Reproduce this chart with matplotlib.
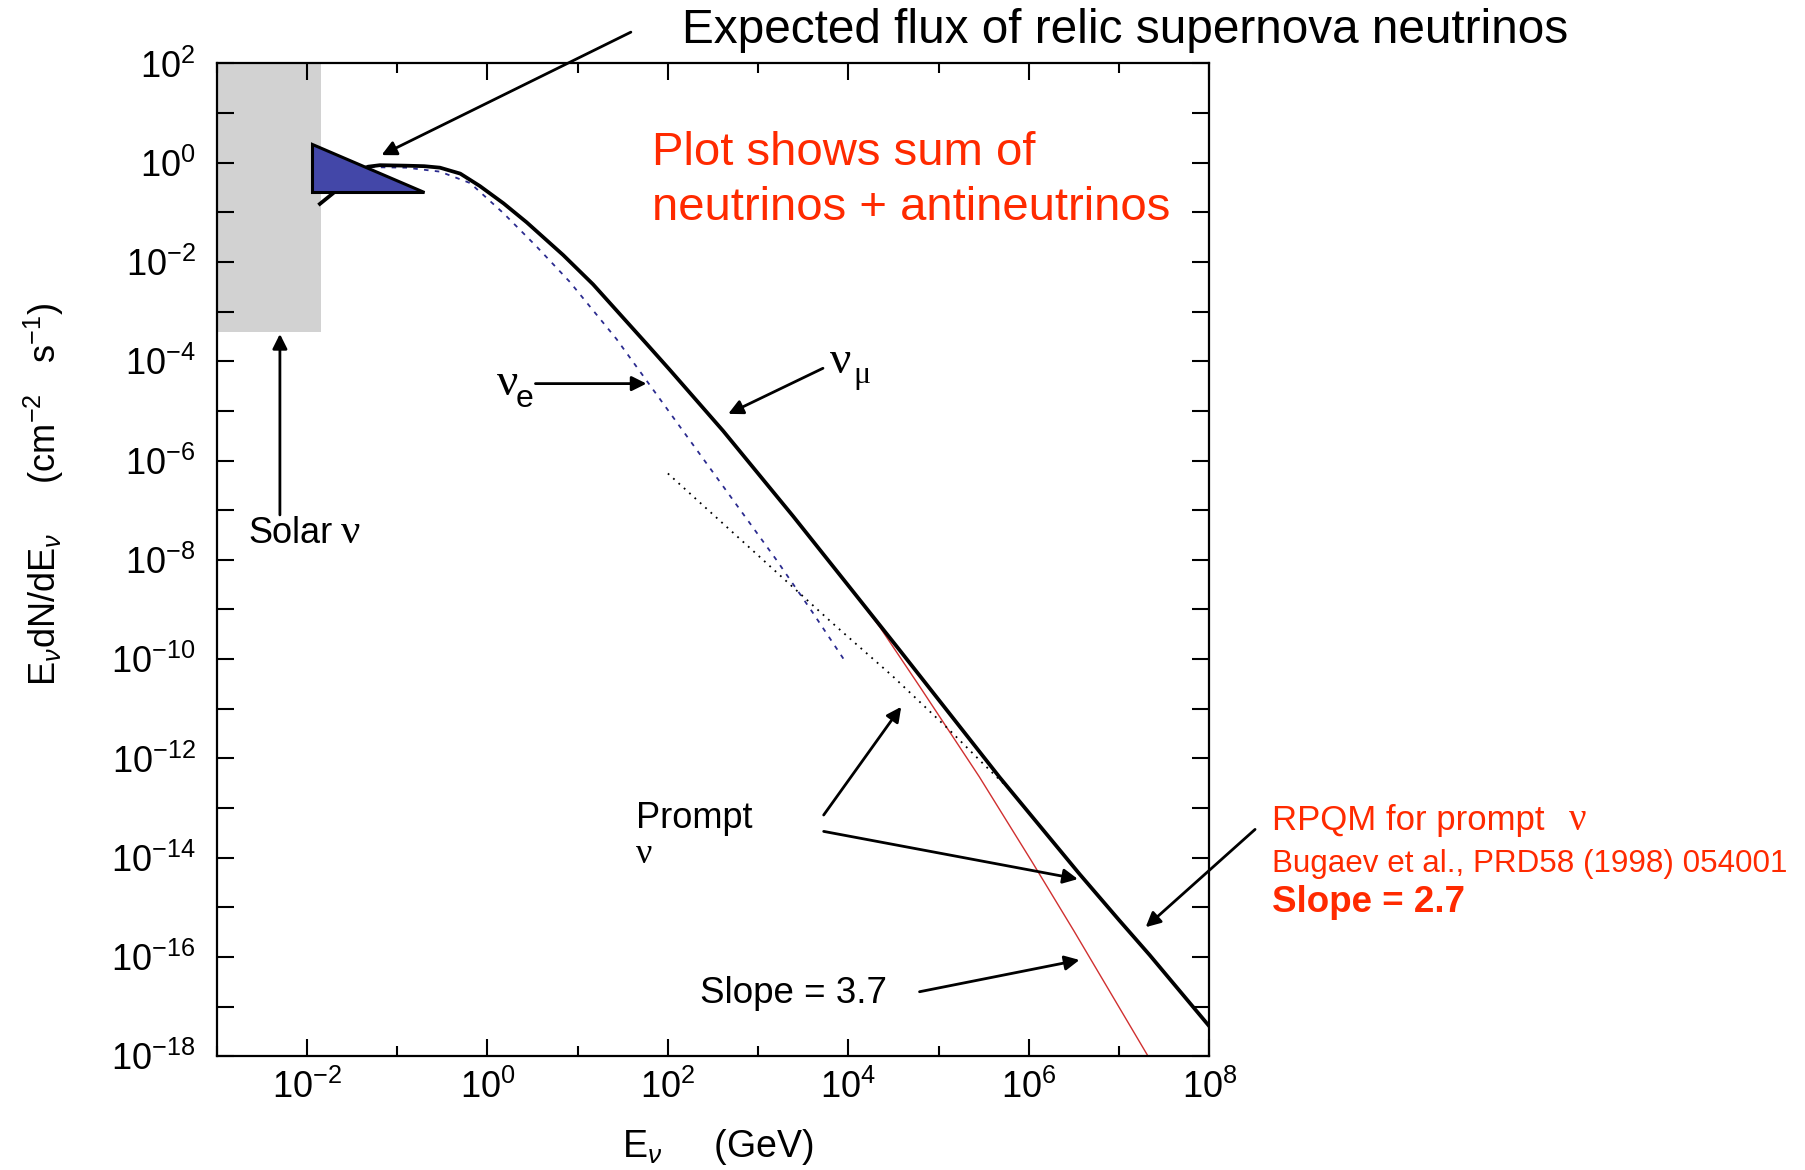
import numpy as np
import matplotlib.pyplot as plt
from matplotlib.ticker import FixedLocator, FuncFormatter, NullLocator

plt.rcParams['font.family'] = ['Liberation Sans', 'DejaVu Sans']
plt.rcParams['mathtext.fontset'] = 'custom'
plt.rcParams['mathtext.rm'] = 'Liberation Sans'
plt.rcParams['mathtext.it'] = 'Liberation Sans:italic'
plt.rcParams['mathtext.bf'] = 'Liberation Sans:bold'

# all spectra as log10(E / GeV) and log10(E dN/dE / cm^-2 s^-1)
numu_logE = [-1.855, -1.71, -1.55, -1.42, -1.32, -1.19, -0.9, -0.7, -0.525, -0.3, -0.083, 0.18,
             0.435, 0.84, 1.171, 1.76, 2.02, 2.611, 3.387, 4.013, 4.568, 5.675, 6.561,
             7.0, 7.337, 8.0]
numu_logF = [-0.83, -0.617, -0.35, -0.15, -0.08, -0.05, -0.06, -0.07, -0.10, -0.22, -0.47, -0.82,
             -1.20, -1.86, -2.45, -3.64, -4.17, -5.40, -7.12, -8.55, -9.82, -12.38, -14.33,
             -15.26, -15.96, -17.40]

nue_logE = [-1.30, -0.9, -0.525, -0.19, 0.18, 0.546, 0.913, 1.43, 1.80, 2.537, 3.202, 3.6, 3.977]
nue_logF = [-0.09, -0.10, -0.18, -0.41, -1.02, -1.69, -2.40, -3.55, -4.48, -6.33, -8.0, -9.05, -10.08]

prompt_logE = [2.0, 3.017, 3.82, 4.494, 5.12, 5.5, 5.8]
prompt_logF = [-6.26, -7.94, -9.27, -10.35, -11.43, -12.12, -12.65]

# conventional flux only, no prompt component
conv_logE = [4.0, 4.35, 4.8, 5.45, 6.04, 6.5, 7.32, 7.45]
conv_logF = [-8.52, -9.36, -10.58, -12.37, -14.1, -15.48, -18.0, -18.4]

solar_E = [1e-3, 0.0145]
solar_F = [10**-3.41, 1e2]

relic_logE = [-1.946, -1.946, -0.704]
relic_logF = [0.376, -0.585, -0.585]

x_major = 10.0 ** np.arange(-2, 9, 2)
x_minor = 10.0 ** np.arange(-3, 8, 2)
y_ticks = 10.0 ** np.arange(-18, 3)

RED = '#ff2a00'
W, H = 1806, 1170


def log_label(v, pos):
    e = int(round(np.log10(v)))
    if e % 2:
        return ''
    return r'$\mathdefault{10^{%d}}$' % e


fig = plt.figure(figsize=(W / 100, H / 100), dpi=100)
ax = fig.add_axes([0.1199, 0.0972, 0.5498, 0.8486])
ax.set_xscale('log')
ax.set_yscale('log')
ax.set_xlim(1e-3, 1e8)
ax.set_ylim(1e-18, 1e2)

ax.fill_between(solar_E, solar_F[0], solar_F[1], color='#d2d2d2', lw=0, zorder=1)
ax.plot(10.0 ** np.array(conv_logE), 10.0 ** np.array(conv_logF), color='#d03030', lw=1.0, zorder=2)
ax.plot(10.0 ** np.array(nue_logE), 10.0 ** np.array(nue_logF), color='#2b2b8f', lw=1.3,
        ls=(0, (2.5, 3.5)), zorder=3)
ax.plot(10.0 ** np.array(prompt_logE), 10.0 ** np.array(prompt_logF), color='k', lw=1.3,
        ls=(0, (1, 3)), zorder=3)
ax.plot(10.0 ** np.array(numu_logE), 10.0 ** np.array(numu_logF), color='k', lw=2.7, zorder=4)
ax.fill(10.0 ** np.array(relic_logE), 10.0 ** np.array(relic_logF), facecolor='#4347a8',
        edgecolor='k', lw=2.2, zorder=5)

ax.xaxis.set_major_locator(FixedLocator(x_major))
ax.xaxis.set_minor_locator(FixedLocator(x_minor))
ax.xaxis.set_major_formatter(FuncFormatter(log_label))
ax.xaxis.set_minor_formatter(FuncFormatter(lambda v, p: ''))
ax.yaxis.set_major_locator(FixedLocator(y_ticks))
ax.yaxis.set_minor_locator(NullLocator())
ax.yaxis.set_major_formatter(FuncFormatter(log_label))
ax.tick_params(which='both', direction='in', top=True, right=True, width=1.5, labelsize=26)
ax.tick_params(which='major', length=12)
ax.tick_params(which='minor', length=7)
ax.tick_params(axis='y', pad=15)
ax.tick_params(axis='x', pad=10)
for s in ax.spines.values():
    s.set_linewidth(1.6)


def ftext(x, y, s, **kw):
    kw.setdefault('va', 'baseline')
    return fig.text(x / W, 1 - y / H, s, **kw)


def arrow(tail, tip):
    ax.annotate('', xy=(10 ** tip[0], 10 ** tip[1]), xytext=(10 ** tail[0], 10 ** tail[1]),
                arrowprops=dict(arrowstyle='-|>', color='k', lw=2, mutation_scale=22,
                                shrinkA=0, shrinkB=0),
                annotation_clip=False, zorder=6)


ftext(44, 494, r'$\mathrm{E}_{\nu}\mathrm{dN/dE}_{\nu}\quad\ \ (\mathrm{cm}^{-2}\ \ \ \mathrm{s}^{-1})$',
      fontsize=26, rotation=90, ha='center', va='center')
ftext(622, 1157, r'$\mathrm{E}_{\nu}\quad\ \ (\mathrm{GeV})$', fontsize=27)

ftext(682, 43, 'Expected flux of relic supernova neutrinos', fontsize=34.4)
ftext(652, 165, 'Plot shows sum of', fontsize=34, color=RED)
ftext(652, 220, 'neutrinos + antineutrinos', fontsize=34, color=RED)

ftext(248, 543, 'Solar', fontsize=26)
ftext(341, 543, 'ν', fontsize=31, family='Liberation Serif')
ftext(497, 395, 'ν', fontsize=34, family='Liberation Serif')
ftext(516, 407, 'e', fontsize=23)
ftext(830, 373, 'ν', fontsize=34, family='Liberation Serif')
ftext(853, 383, 'μ', fontsize=23, family='Liberation Serif')
ftext(636, 828, 'Prompt', fontsize=26)
ftext(636, 863, 'ν', fontsize=26, family='Liberation Serif')
ftext(700, 1003, 'Slope = 3.7', fontsize=26.5)

ftext(1272, 830, 'RPQM for prompt', fontsize=25, color=RED)
ftext(1569, 830, 'ν', fontsize=28, color=RED, family='Liberation Serif')
ftext(1272, 872, 'Bugaev et al., PRD58 (1998) 054001', fontsize=22.6, color=RED)
ftext(1272, 912, 'Slope = 2.7', fontsize=26.5, color=RED, weight='bold')

arrow((1.59, 2.63), (-1.172, 0.153))
arrow((-2.298, -7.095), (-2.298, -3.45))
arrow((0.533, -4.45), (1.763, -4.45))
arrow((3.718, -4.141), (2.668, -5.06))
arrow((3.726, -13.14), (4.585, -10.96))
arrow((3.726, -13.47), (6.542, -14.43))
arrow((4.788, -16.70), (6.56, -16.06))
arrow((8.505, -13.43), (7.293, -15.40))

fig.savefig('out.png', dpi=100)
